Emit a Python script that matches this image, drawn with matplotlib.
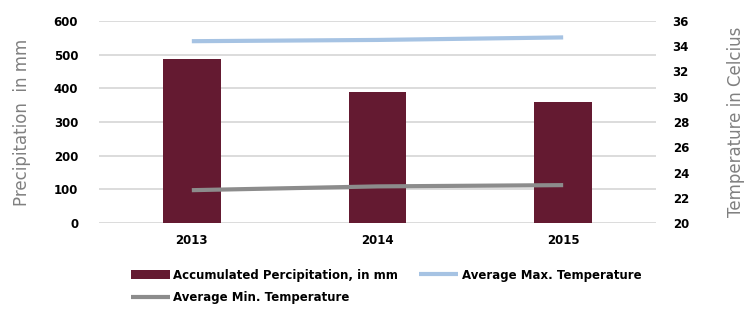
import numpy as np
import matplotlib.pyplot as plt

years = ["2013", "2014", "2015"]
precip = [487, 390, 359]
max_temp = [34.4, 34.5, 34.7]
min_temp = [22.6, 22.9, 23.0]

bar_color = "#641a31"
max_color = "#a6c3e3"
min_color = "#8c8c8c"

fig = plt.figure(figsize=(7.52, 3.09), dpi=100)
ax = fig.add_axes([99 / 752, 1 - 223 / 309, (656 - 99) / 752, (223 - 21) / 309])
ax2 = ax.twinx()

x = np.arange(len(years))
bars = ax.bar(x, precip, width=0.31, color=bar_color, zorder=2,
              label="Accumulated Percipitation, in mm")
l1, = ax2.plot(x, max_temp, color=max_color, lw=3, solid_capstyle="butt",
               label="Average Max. Temperature")
l2, = ax2.plot(x, min_temp, color=min_color, lw=3, solid_capstyle="butt",
               label="Average Min. Temperature")

ax.set_xlim(-0.5, 2.5)
ax.set_ylim(0, 600)
ax.set_yticks(range(0, 601, 100))
ax2.set_ylim(20, 36)
ax2.set_yticks(range(20, 37, 2))
ax.yaxis.grid(True, color="#d9d9d9", lw=1.3, zorder=0)
ax.set_axisbelow(True)

for a in (ax, ax2):
    for s in a.spines.values():
        s.set_visible(False)
    a.tick_params(length=0, labelsize=8.5)
    for t in a.get_yticklabels() + a.get_xticklabels():
        t.set_fontweight("bold")

ax.set_xticks(x)
ax.set_xticklabels(years)
ax.tick_params(axis="x", pad=8)
ax.tick_params(axis="y", pad=15)
ax2.tick_params(axis="y", pad=12)

ax.set_ylabel("Precipitation  in mm", color="#808080", fontsize=12, labelpad=16)
ax2.set_ylabel("Temperature in Celcius", color="#808080", fontsize=12, labelpad=27)

fig.legend(handles=[bars, l2, l1], ncol=2, loc="upper left",
           bbox_to_anchor=(120 / 752, 1 - 258 / 309), frameon=False,
           prop={"weight": "bold", "size": 8.5}, handlelength=3.3,
           handletextpad=0.3, columnspacing=1.8, labelspacing=0.8)

fig.savefig("out.png", dpi=100)
